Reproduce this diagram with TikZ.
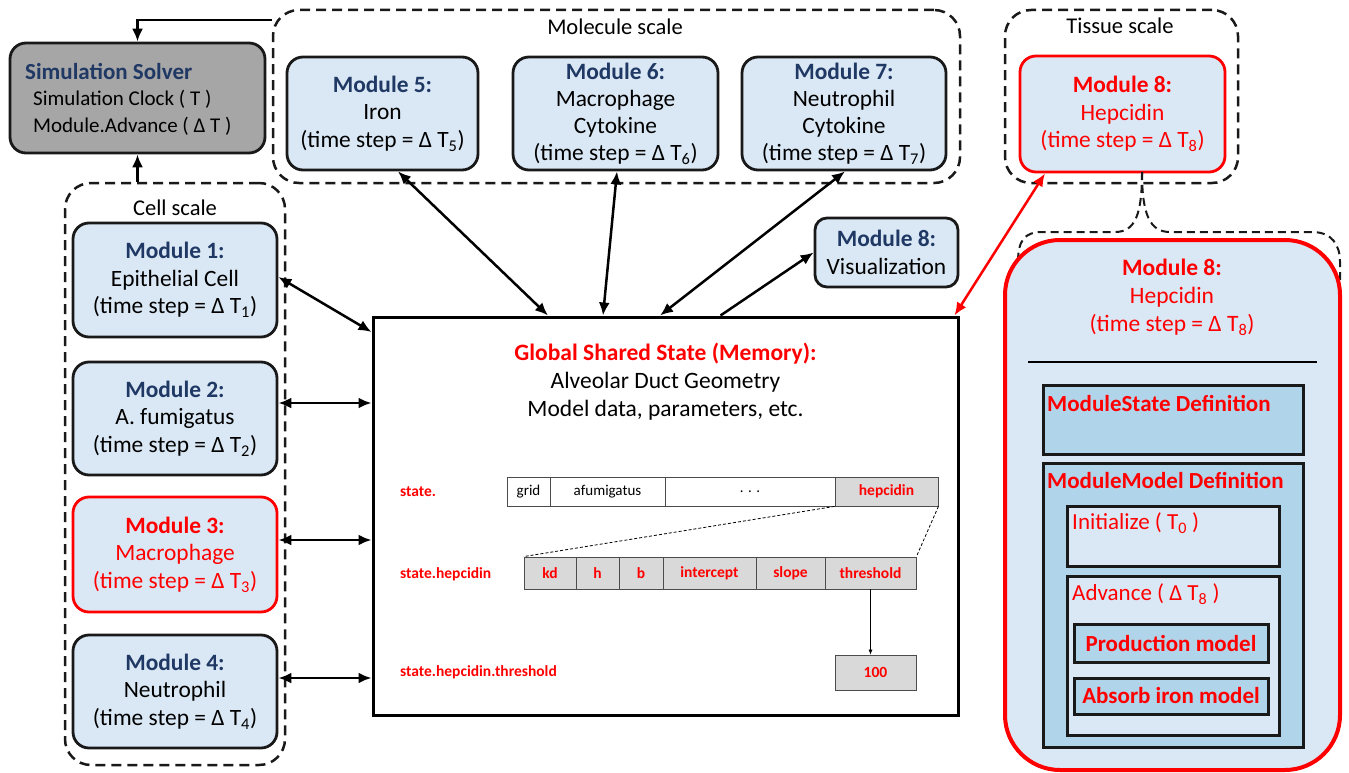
\documentclass[tikz,border=0pt]{standalone}
\usepackage{fontspec}
\setmainfont{Carlito}
\usetikzlibrary{arrows.meta}
\definecolor{navy}{HTML}{1F3864}
\definecolor{modfill}{HTML}{DAE8F5}
\definecolor{deepfill}{HTML}{B0D4EA}
\definecolor{solverfill}{HTML}{A6A6A6}
\definecolor{cellgray}{HTML}{D9D9D9}
\definecolor{myred}{HTML}{FF0000}
\begin{document}
\begin{tikzpicture}[x=1pt,y=-1pt,
  mod/.style={draw=black!90, line width=2.8pt, rounded corners=16pt, fill=modfill, align=center,
    font=\fontsize{23.4}{27.5}\selectfont, inner sep=1pt},
  redmod/.style={mod, draw=myred, text=myred},
  scalebox/.style={draw=black!90, line width=2.5pt, dash pattern=on 10pt off 6pt, rounded corners=26pt, inner sep=0pt},
  scalelbl/.style={font=\fontsize{22.5}{26}\selectfont},
  dbl/.style={line width=2.5pt, {Latex[length=13pt,width=11pt]}-{Latex[length=13pt,width=11pt]}},
  sgl/.style={line width=2.5pt, -{Latex[length=13pt,width=11pt]}},
  cellb/.style={draw=black!70, line width=0.8pt, inner sep=0pt, font=\fontsize{15}{17}\selectfont},
  gcell/.style={cellb, fill=cellgray, text=myred, font=\fontsize{15.5}{17}\selectfont\bfseries},
  statelbl/.style={anchor=west, text=myred, font=\fontsize{15.5}{17}\selectfont\bfseries, inner sep=0pt},
  inbox/.style={draw=black!90, line width=3pt, inner sep=0pt},
  intxt/.style={anchor=west, text=myred, font=\fontsize{23}{27}\selectfont, inner sep=0pt},
  thindash/.style={draw=black!90, line width=2pt, dash pattern=on 8pt off 5pt}
]
\useasboundingbox (0,0) rectangle (1349,773);

% scale boxes
\node[scalebox, minimum width=220pt, minimum height=582pt] (cellbox) at (175,474) {};
\node[scalebox, minimum width=687pt, minimum height=173pt] (molbox) at (616.5,96.5) {};
\node[scalebox, minimum width=233pt, minimum height=173pt] (tisbox) at (1121.5,96.5) {};
\node[scalelbl] (celllbl) at (175,208) {Cell scale};
\node[scalelbl] (mollbl) at (615,27) {Molecule scale};
\node[scalelbl] (tislbl) at (1120,26) {Tissue scale};

% solver
\node[draw=black!90, line width=2.8pt, rounded corners=16pt, fill=solverfill,
  minimum width=255pt, minimum height=110pt] (solver) at (137.5,98) {};
\node[anchor=west, align=left, font=\fontsize{21}{26.5}\selectfont, inner sep=0pt] (solvtxt) at (25,99)
  {\textcolor{navy}{\fontsize{23}{26.5}\selectfont\textbf{Simulation Solver}}\\\hspace*{8pt}Simulation Clock ( T )\\\hspace*{8pt}Module.Advance ( Δ T )};

% cell modules
\node[mod, minimum width=204pt, minimum height=114pt] (m1) at (175,280)
  {\textcolor{navy}{\textbf{Module 1:}}\\Epithelial Cell\\(time step = Δ T\textsubscript{1})};
\node[mod, minimum width=204pt, minimum height=113pt] (m2) at (175,418.5)
  {\textcolor{navy}{\textbf{Module 2:}}\\A. fumigatus\\(time step = Δ T\textsubscript{2})};
\node[redmod, minimum width=204pt, minimum height=115pt] (m3) at (175,554.5)
  {\textbf{Module 3:}\\Macrophage\\(time step = Δ T\textsubscript{3})};
\node[mod, minimum width=204pt, minimum height=113pt] (m4) at (175,691.5)
  {\textcolor{navy}{\textbf{Module 4:}}\\Neutrophil\\(time step = Δ T\textsubscript{4})};

% molecule modules
\node[mod, minimum width=191pt, minimum height=113pt] (m5) at (382.5,113.5)
  {\textcolor{navy}{\textbf{Module 5:}}\\Iron\\(time step = Δ T\textsubscript{5})};
\node[mod, minimum width=205pt, minimum height=113pt, font=\fontsize{23.4}{27}\selectfont] (m6) at (615.5,113.5)
  {\textcolor{navy}{\textbf{Module 6:}}\\Macrophage\\Cytokine\\(time step = Δ T\textsubscript{6})};
\node[mod, minimum width=204pt, minimum height=113pt, font=\fontsize{23.4}{27}\selectfont] (m7) at (844,113.5)
  {\textcolor{navy}{\textbf{Module 7:}}\\Neutrophil\\Cytokine\\(time step = Δ T\textsubscript{7})};

% tissue module
\node[redmod, minimum width=205pt, minimum height=116pt] (m8t) at (1122.5,114)
  {\textbf{Module 8:}\\Hepcidin\\(time step = Δ T\textsubscript{8})};

% visualization
\node[mod, minimum width=143pt, minimum height=69pt, rounded corners=12pt] (vis) at (886.5,252.5)
  {\textcolor{navy}{\textbf{Module 8:}}\\Visualization};

% global box
\node[draw=black, line width=3pt, fill=white, minimum width=585pt, minimum height=398pt] (glob) at (665.5,516) {};
\node[align=center, font=\fontsize{23.5}{28}\selectfont] (globtxt) at (665.5,382)
  {\textcolor{myred}{\textbf{Global Shared State (Memory):}}\\Alveolar Duct Geometry\\Model data, parameters, etc.};

% state rows
\node[statelbl] (s1) at (400,492) {state.};
\node[statelbl] (s2) at (400,574) {state.hepcidin};
\node[statelbl] (s3) at (400,672) {state.hepcidin.threshold};

\node[cellb, minimum width=43pt, minimum height=29pt] (grid) at (528.5,491.5) {grid};
\node[cellb, minimum width=115pt, minimum height=29pt] (afu) at (607.5,491.5) {afumigatus};
\node[cellb, minimum width=170pt, minimum height=29pt] (dots) at (750,491.5) {. . .};
\node[gcell, minimum width=103pt, minimum height=29pt] (hep) at (886.5,491.5) {hepcidin};

\node[gcell, minimum width=52pt, minimum height=32pt] (kd) at (550,573) {kd};
\node[gcell, minimum width=43pt, minimum height=32pt] (hh) at (597.5,573) {h};
\node[gcell, minimum width=44pt, minimum height=32pt] (bb) at (641,573) {b};
\node[gcell, minimum width=93pt, minimum height=32pt] (icp) at (709.5,573) {intercept};
\node[gcell, minimum width=69pt, minimum height=32pt] (slp) at (790.5,573) {slope};
\node[gcell, minimum width=91pt, minimum height=32pt] (thr) at (870.5,573) {threshold};
\node[gcell, minimum width=81pt, minimum height=35pt] (c100) at (875.5,672.5) {100};

\draw[line width=0.8pt, dash pattern=on 3pt off 2pt] (hep.south west) -- (kd.north west);
\draw[line width=0.8pt, dash pattern=on 3pt off 2pt] (hep.south east) -- (thr.north east);
\draw[line width=0.6pt, -{Latex[length=5pt,width=4pt]}] (thr.south) -- (thr.south |- c100.north);

% connectors
\draw[sgl] ([yshift=76.5pt]molbox.west) -| (solver.north);
\draw[sgl] ([xshift=-37.5pt]cellbox.north) -- (solver.south);

\draw[dbl] ([yshift=3pt]m1.east) -- ([yshift=184pt]glob.west);
\draw[dbl] ([yshift=15.5pt]m2.east) -- ([yshift=113pt]glob.west);
\draw[dbl] ([yshift=14.5pt]m3.east) -- ([yshift=-24pt]glob.west);
\draw[dbl] ([yshift=13.5pt]m4.east) -- ([yshift=-162pt]glob.west);

\draw[dbl] ([xshift=15.5pt]m5.south) -- ([xshift=-117.5pt]glob.north);
\draw[dbl] ([xshift=1.5pt]m6.south) -- ([xshift=-62.5pt]glob.north);
\draw[dbl] ([xshift=1pt]m7.south) -- ([xshift=-5.5pt]glob.north);
\draw[sgl] ([xshift=55pt]glob.north) -- (vis.west);
\draw[dbl, draw=myred, fill=myred] ([xshift=-5pt]glob.north east) -- ([xshift=-77.5pt]m8t.south);

% callout dashed shape
\coordinate (c8a) at (1142,172);
\draw[thindash] (c8a) .. controls (1142,215) and (1135,232) .. (1115,232) -- (1042,232)
  .. controls (1025,232) and (1018,240) .. (1018,262) -- (1018,285);
\draw[thindash] (c8a) .. controls (1142,215) and (1150,232) .. (1170,232) -- (1312,232)
  .. controls (1332,232) and (1340,245) .. (1340,262) -- (1340,285);

% big hepcidin box
\node[draw=myred, line width=4pt, rounded corners=55pt, fill=modfill,
  minimum width=335pt, minimum height=530pt] (m8big) at (1172.5,505) {};
\node[align=center, text=myred, font=\fontsize{23.5}{28}\selectfont] (m8bigtxt) at (1172,297)
  {\textbf{Module 8:}\\Hepcidin\\(time step = Δ T\textsubscript{8})};
\draw[line width=2pt] (1028,362) -- (1317,362);

\node[inbox, fill=deepfill, minimum width=260pt, minimum height=69pt] (ms) at (1173,419.5) {};
\node[intxt, font=\fontsize{23}{27}\selectfont\bfseries] (mstxt) at (1047,403) {ModuleState Definition};
\node[inbox, fill=deepfill, minimum width=260pt, minimum height=284pt] (mm) at (1173,605) {};
\node[intxt, font=\fontsize{23}{27}\selectfont\bfseries] (mmtxt) at (1047,480) {ModuleModel Definition};
\node[inbox, fill=modfill, minimum width=212pt, minimum height=60pt] (init) at (1173,536) {};
\node[intxt] (inittxt) at (1072,523) {Initialize ( T\textsubscript{0} )};
\node[inbox, fill=modfill, minimum width=212pt, minimum height=159pt] (adv) at (1173,655.5) {};
\node[intxt] (advtxt) at (1072,594) {Advance ( Δ T\textsubscript{8} )};
\node[inbox, fill=deepfill, minimum width=194pt, minimum height=38pt, text=myred,
  font=\fontsize{23}{27}\selectfont\bfseries] (prod) at (1171,643) {Production model};
\node[inbox, fill=deepfill, minimum width=194pt, minimum height=36pt, text=myred,
  font=\fontsize{23}{27}\selectfont\bfseries] (absb) at (1171,696) {Absorb iron model};
\end{tikzpicture}
\end{document}
